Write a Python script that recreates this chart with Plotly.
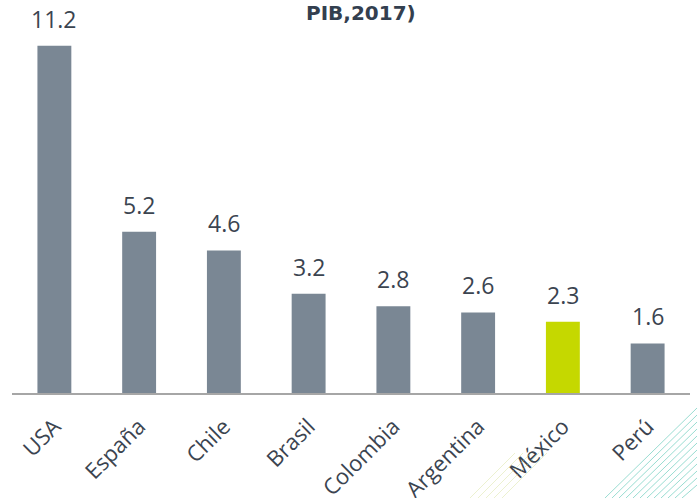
import plotly.graph_objects as go

categories = ["USA", "España", "Chile", "Brasil", "Colombia", "Argentina", "México", "Perú"]
values = [11.2, 5.2, 4.6, 3.2, 2.8, 2.6, 2.3, 1.6]
labels = ["11.2", "5.2", "4.6", "3.2", "2.8", "2.6", "2.3", "1.6"]
highlight = "México"

GRAY = "#7A8794"
LIME = "#C5D800"
colors = [LIME if c == highlight else GRAY for c in categories]

W, H = 697, 498
ml, mr, mt, mb = 12, 7, 21, 105
pw, ph = W - ml - mr, H - mt - mb


def px(x):
    return (x - ml) / pw


def py(y):
    return (H - mb - y) / ph


fig = go.Figure(go.Bar(x=categories, y=values, marker=dict(color=colors, line=dict(width=0)),
                       hoverinfo="skip"))

ann = []
for c, v, t in zip(categories, values, labels):
    ann.append(dict(x=c, y=v, text=t, showarrow=False, yanchor="bottom", yshift=9,
                    font=dict(family="Open Sans", size=23, color="#3B4450")))
ann.append(dict(x=px(361), y=1.0, xref="paper", yref="paper", yshift=22, yanchor="top",
                text="<b>PIB,2017)</b>", showarrow=False,
                font=dict(family="DejaVu Sans", size=20, color="#333F4F")))

shapes = []
# decorative teal hatching (bottom right)
for k in range(12):
    x0 = 605 + 7 * k
    shapes.append(dict(type="line", xref="paper", yref="paper",
                       x0=px(x0), y0=py(498), x1=px(697), y1=py(408 + 7 * k),
                       line=dict(color="rgba(110,205,190,0.7)", width=1)))
# decorative light yellow-green hatching
for k in range(5):
    x0 = 470 + 8 * k
    shapes.append(dict(type="line", xref="paper", yref="paper",
                       x0=px(x0), y0=py(498), x1=px(x0 + 45), y1=py(498 - 45),
                       line=dict(color="rgba(200,215,120,0.35)", width=1)))

fig.update_layout(
    width=W, height=H,
    margin=dict(l=ml, r=mr, t=mt, b=mb, autoexpand=False),
    paper_bgcolor="white", plot_bgcolor="white",
    bargap=0.6,
    showlegend=False,
    annotations=ann,
    shapes=shapes,
    xaxis=dict(showline=True, linecolor="#A6A6A6", linewidth=2, ticks="", tickangle=-45,
               automargin=False, ticklabelstandoff=10,
               tickfont=dict(family="Open Sans", size=22, color="#3B4450"),
               showgrid=False, zeroline=False),
    yaxis=dict(range=[0, 12], visible=False, showgrid=False, zeroline=False),
)

fig.write_html("out.html", config={"displayModeBar": False},
               post_script="document.body.style.margin='0';document.body.style.overflow='hidden';")
